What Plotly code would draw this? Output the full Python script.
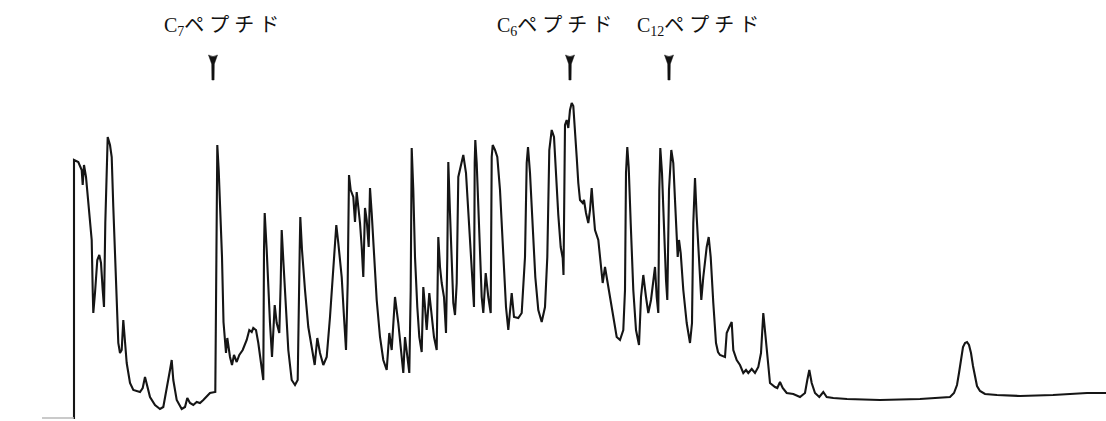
import plotly.graph_objects as go

# Elution time (arbitrary units) and absorbance signal (arbitrary units)
time = [74, 74, 78.3, 81.7, 82.7, 84, 86, 88.3, 91.7, 92.7, 93.3, 95, 97.3, 99.3, 101, 102.7, 104, 105.3, 106.7, 107.7,
        110, 111.7, 113.3, 115, 116.7, 118.3, 120, 121.7, 123.3, 125, 126.7, 130, 133.3, 140, 142.7, 145, 147.3, 150, 155, 160,
        163.3, 166.7, 170, 171.7, 173.3, 176.7, 181.7, 185, 187.3, 190, 193.3, 196.7, 200, 203.3, 206.7, 210, 215.3, 216, 216.7, 217.3,
        218.7, 220, 222, 223.5, 226, 227.3, 230, 232, 234, 236.7, 239.3, 242.7, 246.7, 249.3, 251.7, 253.3, 256, 258.3, 260.7, 263.3,
        264, 264.7, 266.7, 268.3, 270, 272, 273.3, 274.7, 276.7, 279.3, 280.7, 281.7, 283.3, 285.3, 288.3, 291.7, 295, 297.7, 299, 299.7,
        300.3, 302, 305, 308.3, 312.7, 314.7, 317.3, 320, 323.3, 326.7, 330, 333.3, 335.7, 336.3, 338.3, 341.7, 344, 346, 347.7, 348.3,
        349, 350.7, 353.3, 355, 356.7, 358.3, 360, 361.7, 363.3, 365, 366.7, 368.7, 370, 371.7, 374, 376.7, 380, 383.3, 386.7, 389.3,
        391.7, 393.3, 395, 398.3, 401.7, 403.3, 405, 407.3, 409.3, 410.7, 411.3, 411.7, 413.3, 415, 417.3, 419.3, 421.7, 423.3, 424.7, 426.7,
        429.3, 431.7, 434, 436.7, 438.3, 440, 441.7, 444, 446, 447.3, 448.3, 450, 451.7, 453.3, 455, 456.7, 458.3, 460.7, 463.3, 466,
        468.3, 470.7, 472.7, 474, 474.7, 475.3, 476.7, 478.3, 480, 481.7, 483.3, 485.7, 488.3, 490.7, 491.7, 492.7, 495, 497.3, 500, 503.3,
        506, 508.3, 510, 511.7, 514, 518.3, 521.7, 525, 526.7, 528, 530, 532.7, 535.3, 538.3, 541.7, 545, 547.3, 549.3, 551.7, 554,
        556, 558.3, 560.7, 562.7, 563.5, 564.3, 565, 566.7, 568.3, 570, 571.7, 573.3, 575, 576.7, 578.3, 580, 582.7, 584, 586, 588.3,
        590, 591.7, 593.3, 595, 598.3, 600.7, 602.7, 605, 606.7, 610, 613.3, 616.7, 620, 623.3, 625, 626, 627.3, 628.7, 630.7, 633.3,
        636, 639, 641, 643.3, 646, 648.3, 651, 653.3, 655, 656.7, 658.3, 659.3, 660.3, 662, 664, 666, 667.3, 669, 671.3, 673.3,
        675, 676.7, 677.7, 679, 680.7, 683.3, 686.7, 690, 692, 693.3, 694, 695, 696.7, 698.7, 701.3, 703.3, 706.7, 708.7, 710.7, 713.3,
        716, 718, 720, 725, 726.7, 729.3, 731.7, 733.3, 736.7, 740, 743.3, 746, 748.3, 751.7, 755, 758.3, 761, 763.3, 765, 767.3,
        770, 775, 777.3, 780, 782.7, 786.7, 793.3, 800, 805, 807.3, 809.3, 811.7, 815, 819.3, 823.3, 826.7, 833.3, 847, 880, 920,
        950, 954, 957, 959, 961, 963, 965, 967, 969, 971, 973, 975, 977, 980, 985, 997, 1020, 1053, 1087, 1106]

signal = [2, 261, 259, 251, 236, 256, 244, 221, 181, 131, 108, 128, 161, 166, 158, 131, 114, 198, 264, 284,
          276, 264, 214, 164, 114, 78, 68, 71, 101, 78, 58, 38, 31, 29, 33, 44, 34, 24, 16, 12,
          14, 31, 51, 61, 41, 21, 12, 14, 23, 18, 16, 19, 18, 21, 25, 28, 29, 98, 231, 276,
          251, 214, 164, 99, 68, 83, 64, 56, 66, 59, 66, 71, 81, 91, 89, 93, 91, 78, 58, 41,
          171, 208, 171, 128, 98, 64, 94, 116, 98, 88, 138, 191, 161, 121, 71, 41, 36, 41, 104, 171,
          204, 171, 131, 94, 68, 56, 83, 68, 56, 64, 104, 154, 179, 196, 178, 144, 104, 71, 138, 231,
          246, 231, 224, 199, 229, 214, 198, 174, 144, 213, 201, 174, 233, 208, 164, 121, 84, 61, 51, 88,
          71, 104, 124, 98, 58, 48, 84, 64, 48, 131, 238, 273, 231, 164, 114, 84, 69, 134, 118, 91,
          128, 104, 84, 71, 184, 154, 138, 124, 88, 164, 259, 208, 151, 118, 106, 138, 244, 254, 266, 248,
          211, 174, 144, 114, 258, 281, 258, 214, 164, 124, 108, 148, 124, 108, 264, 276, 271, 264, 231, 171,
          114, 91, 114, 128, 104, 103, 108, 164, 258, 274, 248, 198, 144, 111, 99, 114, 164, 271, 291, 284,
          243, 206, 174, 163, 146, 221, 296, 301, 293, 311, 318, 315, 294, 264, 238, 221, 218, 221, 208, 198,
          211, 233, 211, 191, 181, 154, 138, 154, 144, 124, 101, 84, 81, 91, 131, 248, 274, 254, 198, 131,
          91, 76, 124, 146, 124, 108, 121, 141, 154, 124, 108, 231, 273, 248, 188, 141, 121, 231, 271, 258,
          221, 184, 164, 181, 168, 131, 98, 78, 98, 198, 214, 243, 204, 164, 121, 144, 174, 184, 164, 118,
          78, 69, 66, 64, 88, 94, 99, 71, 61, 56, 48, 51, 48, 52, 48, 54, 68, 108, 88, 61,
          38, 34, 33, 39, 33, 28, 27, 24, 28, 41, 51, 38, 28, 24, 29, 24, 23, 22, 21, 22,
          24, 28, 36, 48, 63, 74, 78, 79, 76, 68, 55, 43, 35, 30, 27, 26, 25, 26, 28, 28]

# Peak labels and the elution times they point to
peak_labels = ["C<sub>7</sub>ペ プ チ ド", "C<sub>6</sub>ペ プ チ ド", "C<sub>12</sub>ペ プ チ ド"]
label_x = [221, 554, 698]
marker_x = [213, 570, 669]

fig = go.Figure()

fig.add_trace(go.Scatter(
    x=time, y=signal, mode="lines",
    line=dict(color="#151515", width=2.1),
    hoverinfo="skip", showlegend=False,
))

# faint baseline tick at lower left
fig.add_shape(type="line", x0=42, x1=74, y0=3, y1=3,
              line=dict(color="#b8b8b8", width=1.5))

for lx, txt in zip(label_x, peak_labels):
    fig.add_annotation(x=lx, y=395, text=txt, showarrow=False,
                       xanchor="center", yanchor="middle",
                       font=dict(family="Liberation Serif, Noto Sans CJK JP", size=20, color="#111111"))

for mx in marker_x:
    path = (f"M {mx-4.5},366 Q {mx},363 {mx+4.5},366 L {mx+1.3},357 L {mx+1.1},341 "
            f"L {mx-1.1},341 L {mx-1.3},357 Z")
    fig.add_shape(type="path", path=path, fillcolor="#111111", line=dict(color="#111111", width=0.5))

fig.update_layout(
    width=1106, height=421,
    margin=dict(l=0, r=0, t=0, b=0),
    paper_bgcolor="white", plot_bgcolor="white",
    hovermode=False,
    xaxis=dict(range=[0, 1106], visible=False, fixedrange=True),
    yaxis=dict(range=[0, 421], visible=False, fixedrange=True),
)

fig.write_html("out.html", config={"displayModeBar": False, "staticPlot": True},
               post_script="document.body.style.margin='0';document.body.style.overflow='hidden';")
